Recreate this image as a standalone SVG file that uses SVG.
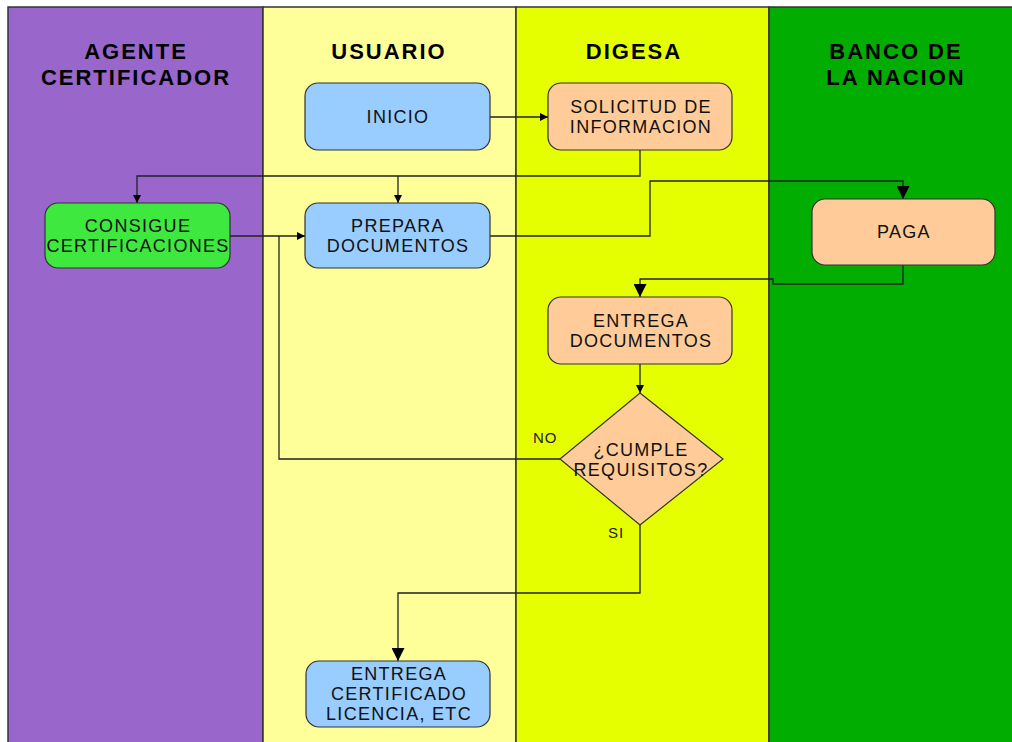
<svg xmlns="http://www.w3.org/2000/svg" width="1012" height="742" viewBox="0 0 1012 742">
<style>
.lane{stroke:#333;stroke-width:1.5}
.hdr{font-family:"Liberation Sans",Arial,sans-serif;font-weight:bold;font-size:22px;letter-spacing:2px;fill:#000;text-anchor:middle}
.box{stroke:#333;stroke-width:1.2}
.t{font-family:"Liberation Sans",Arial,sans-serif;font-size:18px;letter-spacing:1.3px;fill:#111;text-anchor:middle}
.lbl{font-family:"Liberation Sans",Arial,sans-serif;font-size:15px;letter-spacing:1px;fill:#222}
.c{fill:none;stroke:#222;stroke-width:1.3}
</style>
<defs>
<marker id="as" viewBox="0 0 10 10" refX="10" refY="5" markerWidth="9" markerHeight="8" markerUnits="userSpaceOnUse" orient="auto"><path d="M0,0L10,5L0,10z" fill="#000"/></marker>
<marker id="al" viewBox="0 0 10 10" refX="10" refY="5" markerWidth="15" markerHeight="13" markerUnits="userSpaceOnUse" orient="auto"><path d="M0,0L10,5L0,10z" fill="#000"/></marker>
</defs>
<rect width="1012" height="742" fill="#fff"/>
<g id="lanes">
<rect x="8" y="7" width="255" height="740" fill="#9966cc" class="lane"/>
<rect x="263" y="7" width="253" height="740" fill="#ffff99" class="lane"/>
<rect x="516" y="7" width="253" height="740" fill="#e6ff00" class="lane"/>
<rect x="769" y="7" width="250" height="740" fill="#00ad00" class="lane"/>
<text class="hdr" x="136" y="59">AGENTE</text>
<text class="hdr" x="136" y="85">CERTIFICADOR</text>
<text class="hdr" x="389" y="59">USUARIO</text>
<text class="hdr" x="634" y="59">DIGESA</text>
<text class="hdr" x="896" y="59">BANCO DE</text>
<text class="hdr" x="896" y="85">LA NACION</text>
</g>
<g id="connectors">
<path class="c" d="M490,117H548" marker-end="url(#as)"/>
<path class="c" d="M640,150V176H137V203" marker-end="url(#as)"/>
<path class="c" d="M398,176V203" marker-end="url(#as)"/>
<path class="c" d="M230,236H305" marker-end="url(#as)"/>
<path class="c" d="M560,459H279V236"/>
<path class="c" d="M490,236H650V181H903V199" marker-end="url(#al)"/>
<path class="c" d="M903,265V284H773V279H640V297" marker-end="url(#al)"/>
<path class="c" d="M640,364V393" marker-end="url(#as)"/>
<path class="c" d="M640,525V593H398V661" marker-end="url(#al)"/>
<text class="lbl" x="533" y="443">NO</text>
<text class="lbl" x="608" y="538">SI</text>
</g>
<g id="inicio">
<rect class="box" x="305" y="83" width="185" height="67" rx="13" fill="#99ccff"/>
<text class="t" x="398" y="123">INICIO</text>
</g>
<g id="solicitud">
<rect class="box" x="548" y="83" width="184" height="67" rx="13" fill="#ffcc99"/>
<text class="t" x="641" y="113">SOLICITUD DE</text>
<text class="t" x="641" y="133">INFORMACION</text>
</g>
<g id="consigue">
<rect class="box" x="45" y="203" width="185" height="65" rx="13" fill="#3ee83e"/>
<text class="t" x="138" y="232">CONSIGUE</text>
<text class="t" x="138" y="252">CERTIFICACIONES</text>
</g>
<g id="prepara">
<rect class="box" x="305" y="203" width="185" height="65" rx="13" fill="#99ccff"/>
<text class="t" x="398" y="232">PREPARA</text>
<text class="t" x="398" y="252">DOCUMENTOS</text>
</g>
<g id="paga">
<rect class="box" x="812" y="199" width="183" height="66" rx="13" fill="#ffcc99"/>
<text class="t" x="904" y="238">PAGA</text>
</g>
<g id="entrega-documentos">
<rect class="box" x="548" y="297" width="184" height="67" rx="13" fill="#ffcc99"/>
<text class="t" x="641" y="327">ENTREGA</text>
<text class="t" x="641" y="347">DOCUMENTOS</text>
</g>
<g id="cumple">
<path class="box" d="M640,393L723,459L640,525L560,459z" fill="#ffcc99"/>
<text class="t" x="641" y="456">¿CUMPLE</text>
<text class="t" x="641" y="476">REQUISITOS?</text>
</g>
<g id="entrega-certificado">
<rect class="box" x="306" y="661" width="184" height="66" rx="13" fill="#99ccff"/>
<text class="t" x="399" y="680">ENTREGA</text>
<text class="t" x="399" y="700">CERTIFICADO</text>
<text class="t" x="399" y="720">LICENCIA, ETC</text>
</g>
</svg>
